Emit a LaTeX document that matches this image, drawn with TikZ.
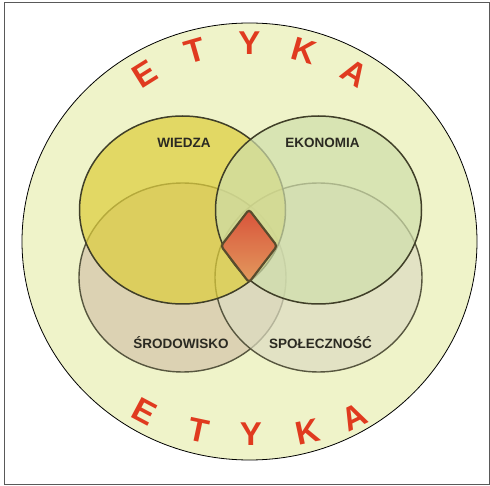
\documentclass[tikz,border=0pt]{standalone}
\usepackage{fontspec}
\setmainfont{Liberation Sans}
\usetikzlibrary{positioning}
\definecolor{Ink}{HTML}{2B2A22}
\definecolor{Etyka}{HTML}{E03A1F}
\definecolor{Fondo}{HTML}{EFF3C9}
\definecolor{Wiedza}{HTML}{DDCD3A}
\definecolor{Ekonomia}{HTML}{CFDEAB}
\definecolor{Srodowisko}{HTML}{D4C4AB}
\definecolor{Spolecznosc}{HTML}{DDDCC2}
\definecolor{EdgeDark}{HTML}{403F28}
\definecolor{EdgeSoft}{HTML}{57563F}
\definecolor{CoreTop}{HTML}{D8533A}
\definecolor{CoreBottom}{HTML}{E39A5E}
\tikzset{
    frame/.style={draw=gray!70!black, line width=0.8pt},
    upperset/.style={draw=EdgeDark, line width=1.5pt, fill opacity=0.7},
    lowerset/.style={draw=EdgeSoft, line width=1.4pt, fill opacity=0.7},
    core/.style={draw=EdgeDark!80!brown, line width=2.2pt, rounded corners=3pt, top color=CoreTop, bottom color=CoreBottom},
    setlabel/.style={anchor=base, inner sep=0pt, text=Ink, font=\fontsize{13.5}{16}\selectfont\bfseries},
    etyka/.style={inner sep=0pt, text=Etyka, font=\fontsize{33}{36}\selectfont\bfseries},
}
\begin{document}
\begin{tikzpicture}[x=1pt, y=1pt]
    \useasboundingbox (0,0) rectangle (490,485);

    % Cornice
    \draw[frame] (4.5,1) rectangle (489,482.5);

    % --- 1. CERCHIO ESTERNO ---
    \draw[black, line width=0.8pt, fill=Fondo] (249.5,243.5) ellipse [x radius=227.5, y radius=218.5];

    % --- 2. INSIEMI (prima quelli in basso) ---
    \draw[lowerset, fill=Srodowisko] (182.5,207.5) ellipse [x radius=103.5, y radius=94.5];
    \draw[lowerset, fill=Spolecznosc] (318.5,207.5) ellipse [x radius=103.5, y radius=94.5];
    \draw[upperset, fill=Wiedza] (182.5,275) ellipse [x radius=103, y radius=94];
    \draw[upperset, fill=Ekonomia] (318.5,275) ellipse [x radius=103, y radius=94];

    % Nucleo centrale
    \draw[core] (249,275.5) -- (277,239) -- (249,202.5) -- (221,239) -- cycle;

    % Etichette
    \node[setlabel] (wiedza) at (184,337.7) {WIEDZA};
    \node[setlabel] (ekonomia) at (322.5,337.5) {EKONOMIA};
    \node[setlabel] (srodowisko) at (181,136) {ŚRODOWISKO};
    \node[setlabel] (spolecznosc) at (320.5,136.5) {SPOŁECZNOŚĆ};

    % --- 3. ETYKA ---
    \begin{scope}[shift={(249.5,243.5)}]
        \foreach \ang/\lett [count=\i] in {122/E, 106/T, 90/Y, 74/K, 58/A}
            \node[etyka, rotate={\ang-90}] (top\i) at (\ang:198) {\lett};
    \end{scope}
    \foreach \px/\py/\rot/\lett [count=\i] in {144.5/73/-28/E, 199/54.5/-12/T, 251/51/0/Y, 307.5/53/12/K, 354/67.5/26/A}
        \node[etyka, rotate=\rot] (bottom\i) at (\px,\py) {\lett};

\end{tikzpicture}
\end{document}
